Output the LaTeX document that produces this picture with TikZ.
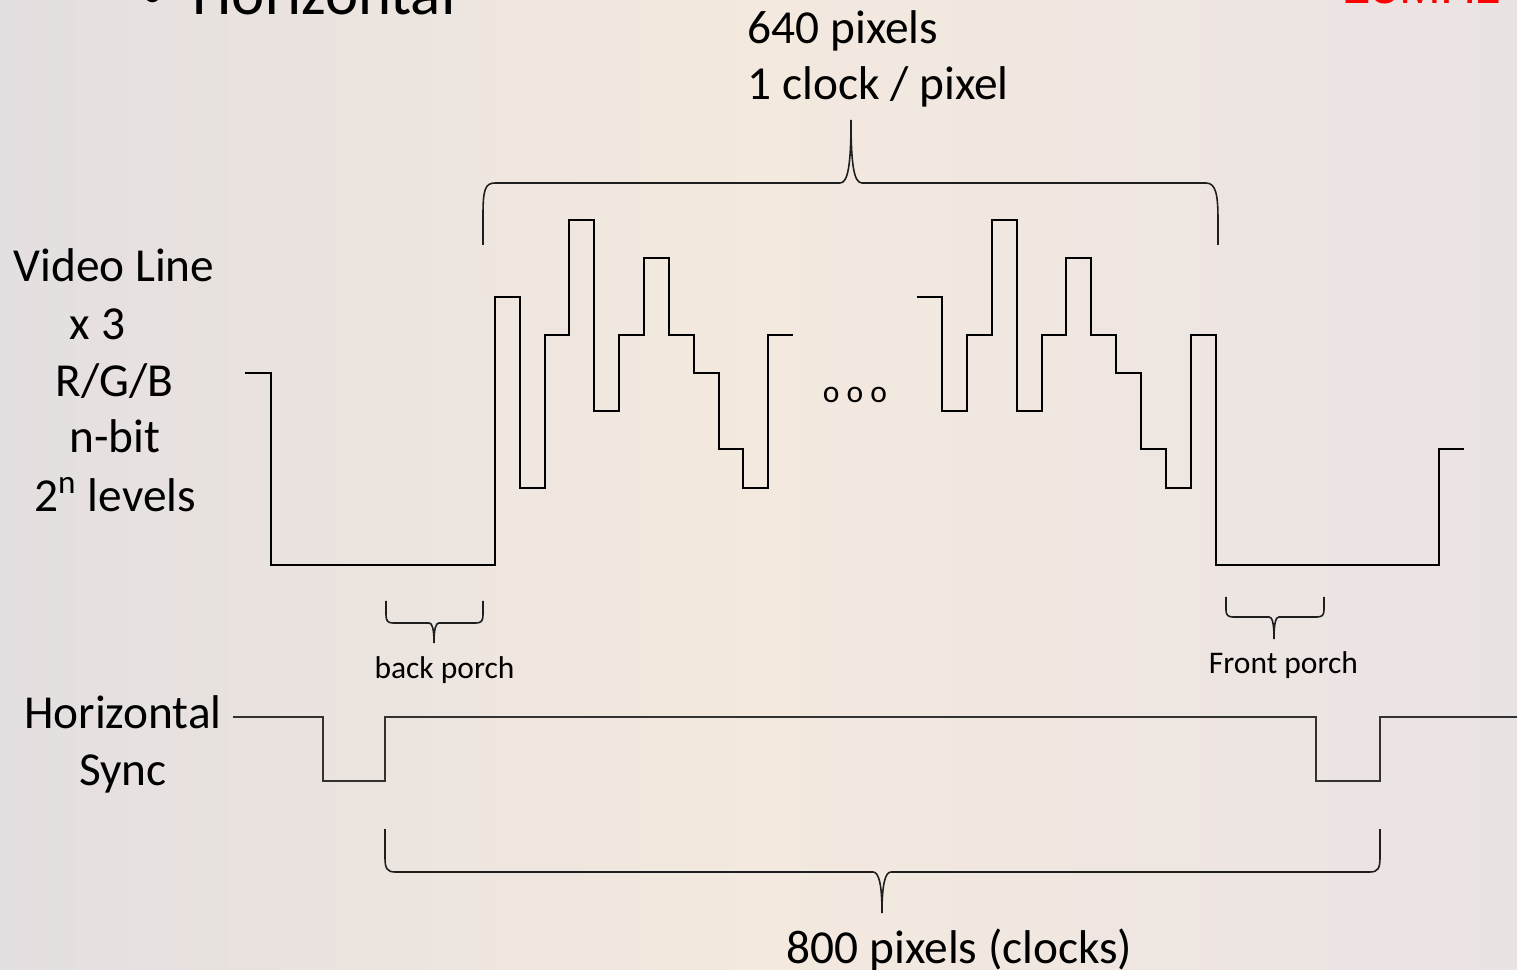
\documentclass[tikz,border=0pt]{standalone}
\usepackage{fontspec}
\setmainfont{Carlito}
\newfontfamily\redfont{Liberation Sans}
\definecolor{bgL}{RGB}{228,223,224}
\definecolor{bgM}{RGB}{243,233,222}
\definecolor{bgR}{RGB}{234,227,228}
\definecolor{syncgray}{RGB}{50,50,50}
\definecolor{bracegray}{RGB}{30,30,30}
\begin{document}
\begin{tikzpicture}[x=0.01cm,y=-0.01cm,
  big/.style={font=\fontsize{13.46}{16}\selectfont, inner sep=0pt},
  small/.style={font=\fontsize{8.96}{11}\selectfont, inner sep=0pt},
  wave/.style={line width=0.8pt, line join=miter},
  syncline/.style={line width=0.6pt, draw=syncgray},
  bracepath/.style={line width=0.45pt, draw=bracegray}]
\useasboundingbox (0,0) rectangle (1517,970);
\clip (0,0) rectangle (1517,970);
\shade[left color=bgL, right color=bgR, middle color=bgM] (0,0) rectangle (1517,970);

% cut-off title texts
\node[anchor=base, inner sep=0pt, font=\fontsize{13}{15}\selectfont] (tbul) at (153,8) {\textbullet};
\node[anchor=base west, inner sep=0pt, font=\fontsize{17.9}{20}\selectfont] (title) at (192,15) {Horizontal};
\node[anchor=base west, inner sep=0pt, text=red, font=\redfont\fontsize{14.2}{17}\selectfont] (clk) at (1343,4) {25MHz Clock};

% video line labels
\node[big, anchor=base] (vl1) at (114,282) {Video Line};
\node[big, anchor=base] (vl2) at (97.5,340) {x 3};
\node[big, anchor=base] (vl3) at (114.5,397) {R/G/B};
\node[big, anchor=base] (vl4) at (115,453) {n-bit};
\node[big, anchor=base] (vl5) at (115,511.5) {2\textsuperscript{n} levels};

% sync labels
\node[big, anchor=base] (hs1) at (123,728.5) {Horizontal};
\node[big, anchor=base] (hs2) at (123,785) {Sync};

% top labels
\node[big, anchor=base west] (p640) at (747,43.5) {640 pixels};
\node[big, anchor=base west] (clkpx) at (747,100) {1 clock / pixel};

% porch and total labels
\node[small, anchor=base] (bp) at (444.5,678.5) {back porch};
\node[small, anchor=base] (fp) at (1283.5,673.5) {Front porch};
\node[big, anchor=base] (p800) at (959.5,963.5) {800 pixels (clocks)};
\node[small, anchor=base] (dots) at (855,402.5) {o o o};

% video waveform, first group
\draw[wave] (245,373) -| (271,565) -| (495,297) -| (520,488) -| (545,335) -| (569,220)
  -| (594,411) -| (619,335) -| (644,258) -| (669,335) -| (694,373) -| (719,449)
  -| (743,488) -| (768,335) -- (793,335);
% video waveform, second group
\draw[wave] (917,297) -| (942,411) -| (967,335) -| (992,220) -| (1017,411) -| (1042,335)
  -| (1066,258) -| (1091,335) -| (1116,373) -| (1141,449) -| (1166,488) -| (1191,335)
  -| (1216,565) -| (1439,449) -- (1464,449);

% horizontal sync
\draw[syncline] (233,717) -| (323,781) -| (385,717) -| (1316,781) -| (1380,717) -- (1517,717);

% top brace (640)
\coordinate (tb) at (851,120);
\draw[bracepath] (483,245) -- (483,215) .. controls (483,190) and (485,183) .. (495,183)
  -- (840,183) .. controls (848,183) and (851,165) .. (tb)
  .. controls (851,165) and (854,183) .. (862,183)
  -- (1206,183) .. controls (1216,183) and (1218,195) .. (1218,220) -- (1218,245);

% back porch brace
\coordinate (bpt) at (434,643);
\draw[bracepath] (386,601) -- (386,615) .. controls (386,621) and (388,623) .. (393,623)
  -- (429,623) .. controls (432,623) and (434,628) .. (bpt)
  .. controls (434,628) and (436,623) .. (439,623)
  -- (476,623) .. controls (481,623) and (483,621) .. (483,615) -- (483,601);

% front porch brace
\coordinate (fpt) at (1274,639);
\draw[bracepath] (1226,597) -- (1226,610) .. controls (1226,615) and (1228,617) .. (1233,617)
  -- (1269,617) .. controls (1272,617) and (1274,622) .. (fpt)
  .. controls (1274,622) and (1276,617) .. (1279,617)
  -- (1317,617) .. controls (1322,617) and (1324,615) .. (1324,610) -- (1324,597);

% bottom brace (800)
\coordinate (btt) at (882,913);
\draw[bracepath] (385,829) -- (385,858) .. controls (385,868) and (387,872) .. (395,872)
  -- (873,872) .. controls (879,872) and (882,885) .. (btt)
  .. controls (882,885) and (885,872) .. (891,872)
  -- (1370,872) .. controls (1378,872) and (1380,868) .. (1380,858) -- (1380,829);
\end{tikzpicture}
\end{document}
